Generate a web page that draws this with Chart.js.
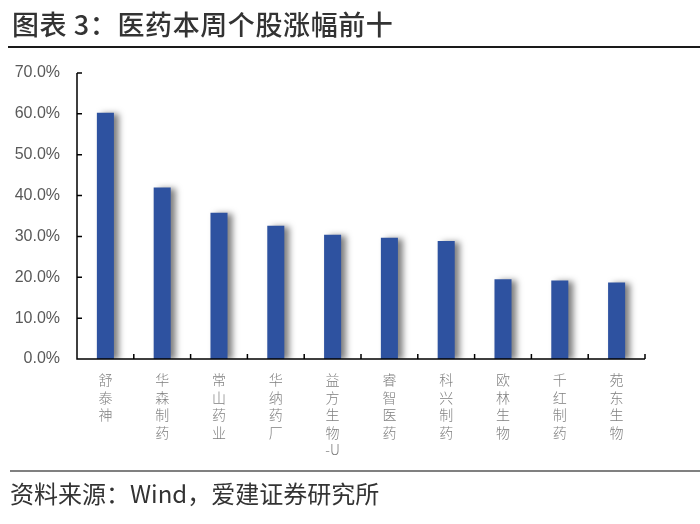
<!DOCTYPE html>
<html>
<head>
<meta charset="utf-8">
<script src="https://cdn.jsdelivr.net/npm/chart.js@4.4.1/dist/chart.umd.min.js"></script>
<style>
  html, body { margin: 0; padding: 0; background: #fff; }
  #wrap { width: 700px; height: 524px; position: relative; }
</style>
</head>
<body>
<div id="wrap"><canvas id="c" width="700" height="524"></canvas></div>
<script>
const titleText = '图表 3：医药本周个股涨幅前十';
const sourceText = '资料来源：Wind，爱建证券研究所';
const stocks = ['舒泰神', '华森制药', '常山药业', '华纳药厂', '益方生物-U', '睿智医药', '科兴制药', '欧林生物', '千红制药', '苑东生物'];
const gains = [60.3, 42.0, 35.8, 32.6, 30.4, 29.7, 28.9, 19.5, 19.2, 18.7];

// 把名字拆成竖排的单字，非中文部分保持在一起
function verticalLabel(name) {
  const out = [];
  let buf = '';
  for (const ch of name) {
    if (/[\u4e00-\u9fff]/.test(ch)) {
      if (buf) { out.push(buf); buf = ''; }
      out.push(ch);
    } else {
      buf += ch;
    }
  }
  if (buf) out.push(buf);
  return out;
}

const frame = {
  id: 'frame',
  beforeDraw(chart) {
    const { ctx } = chart;
    ctx.save();
    ctx.fillStyle = '#fff';
    ctx.fillRect(0, 0, chart.width, chart.height);
    ctx.fillStyle = '#333333';
    ctx.font = '500 27px "Noto Sans CJK SC"';
    ctx.letterSpacing = '0.6px';
    ctx.textBaseline = 'middle';
    ctx.fillText(titleText, 12, 25);
    ctx.letterSpacing = '0px';
    ctx.fillStyle = '#1a1a1a';
    ctx.fillRect(8, 46, 692, 2);
    ctx.fillStyle = '#808080';
    ctx.fillRect(10, 470, 690, 2);
    ctx.fillStyle = '#333333';
    ctx.font = '24px "Noto Sans CJK SC"';
    ctx.fillText(sourceText, 10, 494);
    ctx.restore();
  },
  beforeDatasetsDraw(chart) {
    const { ctx } = chart;
    ctx.save();
    ctx.shadowColor = 'rgba(0,0,0,0.5)';
    ctx.shadowBlur = 6;
    ctx.shadowOffsetX = 5;
    ctx.shadowOffsetY = 1;
  },
  afterDatasetsDraw(chart) {
    chart.ctx.restore();
  },
  afterDraw(chart) {
    const { ctx, chartArea: a } = chart;
    const x = chart.scales.x, y = chart.scales.y;
    ctx.save();
    ctx.strokeStyle = '#000';
    ctx.lineWidth = 1.5;
    ctx.beginPath();
    ctx.moveTo(a.left, a.top);
    ctx.lineTo(a.left, a.bottom);
    ctx.lineTo(a.right, a.bottom);
    y.ticks.forEach((t) => {
      const py = y.getPixelForValue(t.value);
      ctx.moveTo(a.left, py);
      ctx.lineTo(a.left + 5, py);
    });
    const half = (x.getPixelForValue(1) - x.getPixelForValue(0)) / 2;
    for (let i = 0; i < stocks.length; i++) {
      const px = x.getPixelForValue(i) + half;
      ctx.moveTo(px, a.bottom);
      ctx.lineTo(px, a.bottom - 5);
    }
    ctx.stroke();
    ctx.restore();
  },
};

new Chart(document.getElementById('c'), {
  type: 'bar',
  plugins: [frame],
  data: {
    labels: stocks.map(verticalLabel),
    datasets: [{
      data: gains,
      backgroundColor: '#2E52A0',
      barPercentage: 0.3,
      categoryPercentage: 1.0,
    }],
  },
  options: {
    responsive: false,
    animation: false,
    layout: { padding: { top: 73, right: 55, bottom: 55, left: 0 } },
    plugins: { legend: { display: false }, tooltip: { enabled: false } },
    scales: {
      x: {
        offset: true,
        grid: { display: false },
        border: { display: false },
        afterFit(scale) { scale.height = 110; },
        ticks: {
          color: '#7f7f7f',
          font: { family: '"Noto Sans CJK SC"', size: 14, weight: 300, lineHeight: 1.25 },
          padding: 4,
          maxRotation: 0,
          autoSkip: false,
        },
      },
      y: {
        min: 0,
        max: 70,
        grid: { display: false, drawTicks: false },
        border: { display: false },
        afterFit(scale) { scale.width = 77; },
        ticks: {
          stepSize: 10,
          color: '#595959',
          font: { family: '"Liberation Sans", Arial', size: 16 },
          padding: 17,
          callback: (v) => v.toFixed(1) + '%',
        },
      },
    },
  },
});
</script>
</body>
</html>
